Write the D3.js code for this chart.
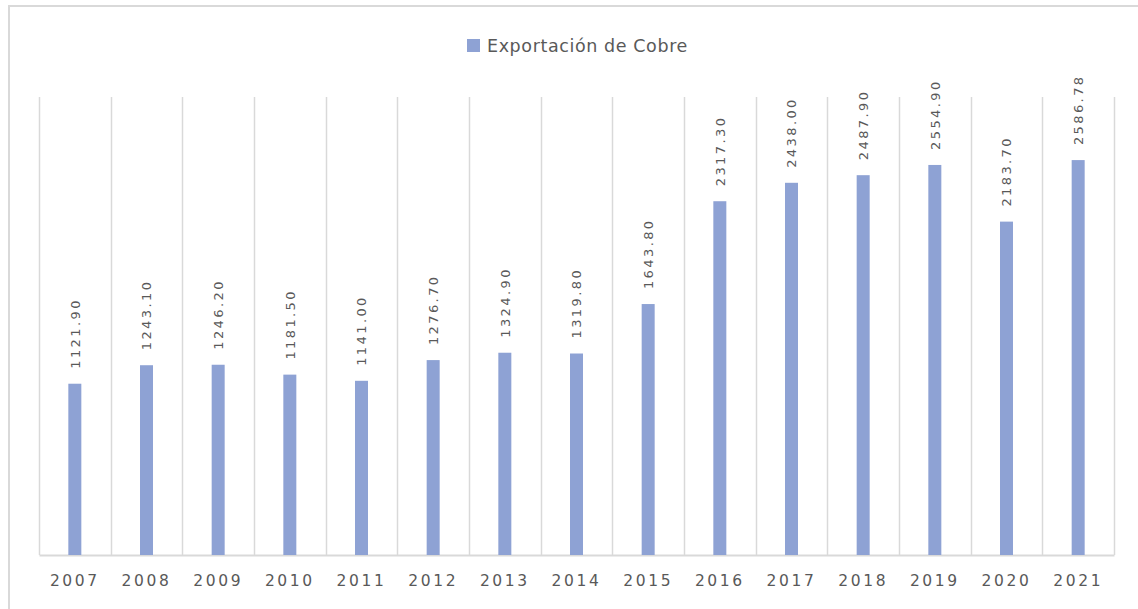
<!DOCTYPE html>
<html>
<head>
<meta charset="utf-8">
<script src="https://cdn.jsdelivr.net/npm/d3@7"></script>
<style>
  body { margin: 0; background: #fff; }
  svg text { font-family: "DejaVu Sans", Verdana, sans-serif; fill: #595959; }
</style>
</head>
<body>
<svg width="1138" height="609"></svg>
<script>
// chart data
var years = ["2007", "2008", "2009", "2010", "2011", "2012", "2013", "2014",
             "2015", "2016", "2017", "2018", "2019", "2020", "2021"];
var exportValues = [1121.90, 1243.10, 1246.20, 1181.50, 1141.00, 1276.70, 1324.90, 1319.80,
                    1643.80, 2317.30, 2438.00, 2487.90, 2554.90, 2183.70, 2586.78];
var seriesName = "Exportación de Cobre";
var yMax = 3000;

var svg = d3.select("svg"),
  width = +svg.attr("width"),
  height = +svg.attr("height");

var barColor = "#8ea2d4";
var gridColor = "#d9d9d9";
var barWidth = 13;

// outer chart border (left/top only visible)
svg.append("rect")
  .attr("x", 9).attr("y", 6)
  .attr("width", 1200).attr("height", 700)
  .attr("fill", "none")
  .attr("stroke", "#d9d9d9")
  .attr("stroke-width", 2);

// scales
var x = d3.scaleBand()
  .domain(years)
  .range([39, 1114])
  .padding(0);

var y = d3.scaleLinear()
  .domain([0, yMax])
  .range([555, 97]);

// vertical gridlines on category boundaries
var bounds = years.map(function(d) { return x(d); }).concat([x.range()[1]]);
svg.append("g")
  .selectAll("line")
  .data(bounds)
  .enter()
  .append("line")
  .attr("x1", function(d) { return Math.round(d) + 0.5; })
  .attr("x2", function(d) { return Math.round(d) + 0.5; })
  .attr("y1", y(yMax))
  .attr("y2", y(0))
  .attr("stroke", gridColor)
  .attr("stroke-width", 1.5);

// category axis
var xAxis = svg.append("g")
  .attr("transform", "translate(0," + y(0) + ")")
  .call(d3.axisBottom(x).tickSize(0).tickPadding(20));
xAxis.select(".domain").attr("stroke", gridColor).attr("stroke-width", 2);
xAxis.selectAll("text")
  .style("font-size", "15.5px")
  .style("letter-spacing", "2.6px")
  .style("fill", "#595959")
  .style("font-family", "DejaVu Sans, sans-serif");

var rows = years.map(function(d, i) { return { year: d, value: exportValues[i] }; });

// bars
svg.append("g")
  .selectAll("rect")
  .data(rows)
  .enter()
  .append("rect")
  .attr("x", function(d) { return x(d.year) + x.bandwidth() / 2 - barWidth / 2; })
  .attr("width", barWidth)
  .attr("y", function(d) { return y(d.value); })
  .attr("height", function(d) { return y(0) - y(d.value); })
  .attr("fill", barColor);

// value labels, rotated
var fmt = d3.format(".2f");
svg.append("g")
  .selectAll("text")
  .data(rows)
  .enter()
  .append("text")
  .attr("transform", function(d) {
    var cx = x(d.year) + x.bandwidth() / 2;
    return "translate(" + cx + "," + (y(d.value) - 15) + ") rotate(-90)";
  })
  .attr("dy", "0.36em")
  .style("font-size", "13px")
  .style("letter-spacing", "2.4px")
  .text(function(d) { return fmt(d.value); });

// legend
var legend = svg.append("g").attr("transform", "translate(467,39)");
legend.append("rect")
  .attr("width", 13).attr("height", 13)
  .attr("fill", barColor);
legend.append("text")
  .attr("x", 20).attr("y", 6.5)
  .attr("dy", "0.35em")
  .style("font-size", "17.5px")
  .style("letter-spacing", "0.6px")
  .text(seriesName);
</script>
</body>
</html>
